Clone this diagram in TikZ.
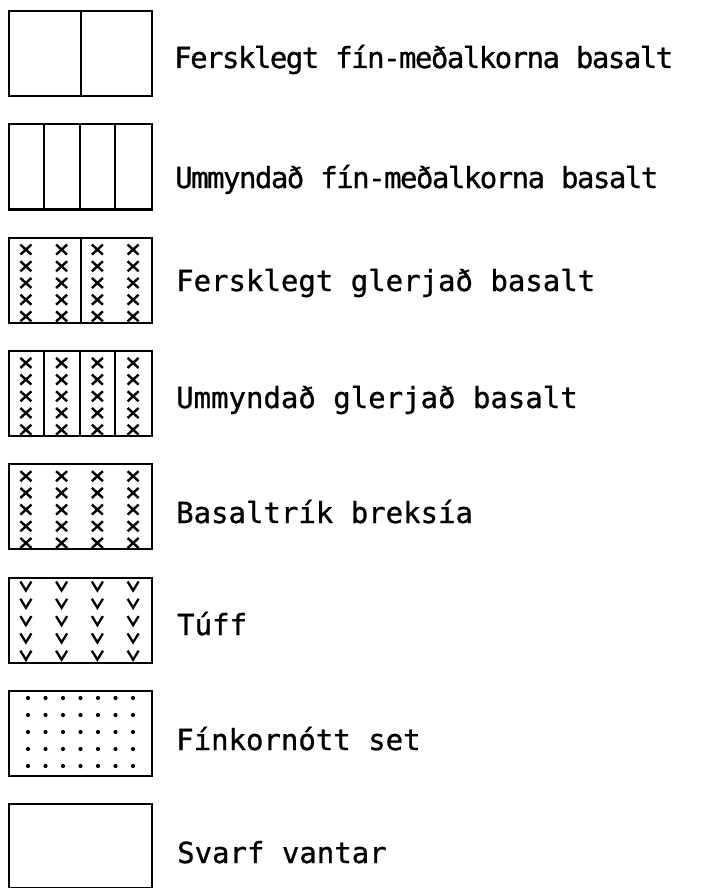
\documentclass[tikz,border=0pt]{standalone}
\usepackage{fontspec}
\setmainfont{DejaVu Sans Mono}[FakeBold=0.9]
\usetikzlibrary{positioning,calc}

\tikzset{
  legbox/.style={draw,line width=2.2pt,minimum width=143pt,minimum height=85pt,inner sep=0pt,anchor=north west},
  divider/.style={line width=2pt},
  legtext/.style={anchor=base west,inner sep=0pt,font=\fontsize{29}{34}\selectfont},
  legtight/.style={legtext,font=\fontsize{29}{34}\selectfont\addfontfeature{LetterSpace=-5.2}},
  cross/.style={line width=2.4pt},
  vee/.style={line width=2.3pt},
}

\begin{document}
\begin{tikzpicture}[x=1pt,y=-1pt]
\useasboundingbox (0,0) rectangle (726,888);
% fersklegt fin-medalkorna basalt
\node[legbox] (box1) at (8,10) {};
\draw[divider] (box1.north) -- (box1.south);
\node[legtight] (lab1) at (174,68) {Fersklegt fín-meðalkorna basalt};
% ummyndad fin-medalkorna basalt
\node[legbox] (box2) at (8,123.3) {};
\foreach \x in {43.75,79.5,115.25}
  \draw[divider] (\x,123.3) -- (\x,208.3);
\node[legtight] (lab2) at (175,188) {Ummyndað fín-meðalkorna basalt};
% fersklegt glerjad basalt
\node[legbox] (box3) at (8,236.6) {};
\draw[divider] (box3.north) -- (box3.south);
\foreach \x in {25.9,61.6,97.4,133.1}
  \foreach \y in {13,29.7,46.4,63.1,79.8}
    \draw[cross] (\x-5.5,236.6+\y-5) -- ++(11,10) (\x-5.5,236.6+\y+5) -- ++(11,-10);
\node[legtext] (lab3) at (176,291) {Fersklegt glerjað basalt};
% ummyndad glerjad basalt
\node[legbox] (box4) at (8,349.9) {};
\foreach \x in {43.75,79.5,115.25}
  \draw[divider] (\x,349.9) -- (\x,434.9);
\foreach \x in {25.9,61.6,97.4,133.1}
  \foreach \y in {13,29.7,46.4,63.1,79.8}
    \draw[cross] (\x-5.5,349.9+\y-5) -- ++(11,10) (\x-5.5,349.9+\y+5) -- ++(11,-10);
\node[legtext] (lab4) at (176,408) {Ummyndað glerjað basalt};
% basaltrik breksia
\node[legbox] (box5) at (8,463.2) {};
\foreach \x in {25.9,61.6,97.4,133.1}
  \foreach \y in {13,29.7,46.4,63.1,79.8}
    \draw[cross] (\x-5.5,463.2+\y-5) -- ++(11,10) (\x-5.5,463.2+\y+5) -- ++(11,-10);
\node[legtext] (lab5) at (176,523) {Basaltrík breksía};
% tuff
\node[legbox] (box6) at (8,576.5) {};
\foreach \x in {25.9,61.6,97.4,133.1}
  \foreach \y in {9.5,26.8,44.1,61.4,78.7}
    \draw[vee] (\x-5.5,576.5+\y-4.5) -- (\x,576.5+\y+4.5) -- (\x+5.5,576.5+\y-4.5);
\node[legtext] (lab6) at (177,635) {Túff};
% finkornott set
\node[legbox] (box7) at (8,689.8) {};
\foreach \x in {0,...,6}
  \foreach \y in {0,...,4}
    \fill (28+17.5*\x,698+17*\y) circle[radius=2.1pt];
\node[legtext] (lab7) at (176,750) {Fínkornótt set};
% svarf vantar
\node[legbox,minimum height=84pt] (box8) at (8,803.1) {};
\node[legtext] (lab8) at (177,863) {Svarf vantar};
\end{tikzpicture}
\end{document}
